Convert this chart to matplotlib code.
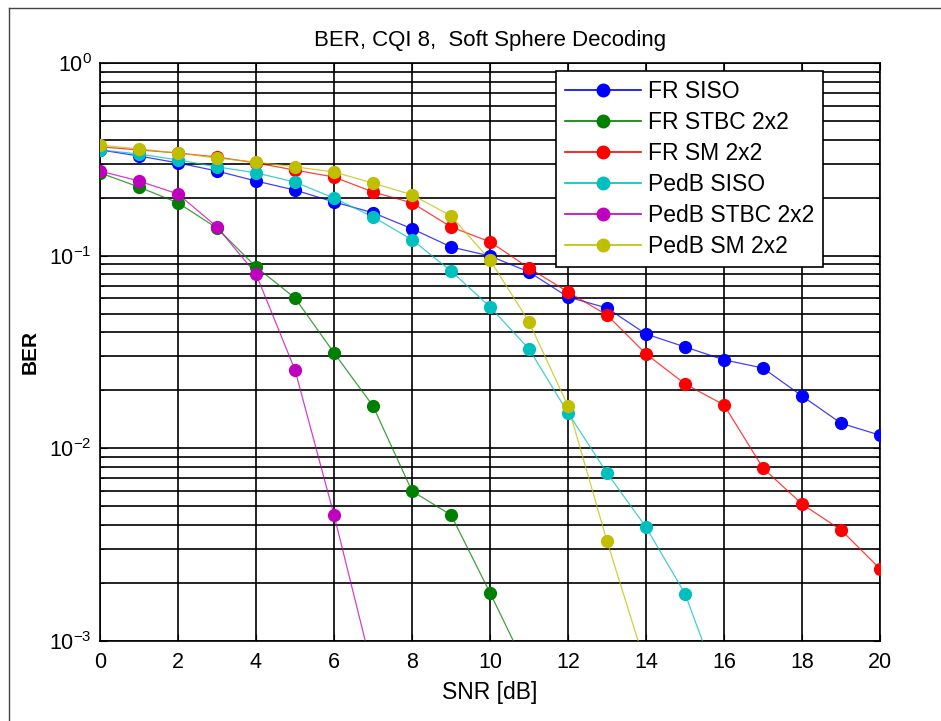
import matplotlib
matplotlib.use("Agg")
import matplotlib.pyplot as plt
from matplotlib.ticker import LogLocator, NullFormatter
from matplotlib.lines import Line2D

plt.rcParams['font.family'] = ['Liberation Sans', 'DejaVu Sans']

# SNR axis
snr = list(range(0, 21))

# BER curves
fr_siso = [0.354, 0.329, 0.303, 0.275, 0.244, 0.219, 0.190, 0.167, 0.138, 0.111,
           0.0996, 0.0823, 0.0610, 0.0535, 0.0392, 0.0336, 0.0288, 0.0261, 0.0187,
           0.0135, 0.0117]
fr_stbc = [0.269, 0.227, 0.188, 0.139, 0.0874, 0.0603, 0.0313, 0.0166, 0.0060,
           0.00451, 0.00178, 0.00068]
fr_sm = [0.367, 0.354, 0.341, 0.325, 0.303, 0.278, 0.256, 0.214, 0.188, 0.141,
         0.118, 0.0863, 0.0648, 0.0492, 0.0309, 0.0216, 0.0168, 0.0079, 0.00514,
         0.00377, 0.00237]
pedb_siso = [0.354, 0.337, 0.314, 0.289, 0.269, 0.241, 0.199, 0.159, 0.121,
             0.0833, 0.0542, 0.0328, 0.0153, 0.00745, 0.0039, 0.00176, 0.0005]
pedb_stbc = [0.275, 0.244, 0.209, 0.141, 0.0804, 0.0255, 0.00451, 0.00069]
pedb_sm = [0.375, 0.358, 0.341, 0.321, 0.306, 0.289, 0.272, 0.238, 0.207, 0.161,
           0.095, 0.0453, 0.0166, 0.0033, 0.00074]

labels = ['FR SISO', 'FR STBC 2x2', 'FR SM 2x2', 'PedB SISO', 'PedB STBC 2x2', 'PedB SM 2x2']
colors = ['#0000ff', '#007f00', '#ff0000', '#00bfbf', '#bf00bf', '#bfbf00']
series = [fr_siso, fr_stbc, fr_sm, pedb_siso, pedb_stbc, pedb_sm]

fig = plt.figure(figsize=(9.41, 7.21), dpi=100)
ax = fig.add_axes([100/941, 1-641/721, 780/941, 578/721])

for ys, c in zip(series, colors):
    ax.plot(snr[:len(ys)], ys, '-', color=c, lw=0.9, alpha=0.75, zorder=3)
    ax.plot(snr[:len(ys)], ys, 'o', color=c, ms=8.5, mec=c, zorder=4)

ax.set_yscale('log')
ax.set_xlim(0, 20)
ax.set_ylim(1e-3, 1)
ax.set_xticks(range(0, 21, 2))
ax.yaxis.set_major_locator(LogLocator(base=10, numticks=10))
ax.yaxis.set_minor_locator(LogLocator(base=10, subs=range(2, 10), numticks=20))
ax.yaxis.set_minor_formatter(NullFormatter())

ax.grid(True, which='major', color='black', lw=1.2, ls='-')
ax.grid(True, which='minor', axis='y', color='black', lw=1.2, ls='-')
ax.tick_params(which='both', direction='in', top=True, right=True, labelsize=15.5, length=5)
ax.tick_params(axis='x', pad=8)
ax.tick_params(axis='y', pad=6)
ax.tick_params(which='minor', length=3)
for s in ax.spines.values():
    s.set_linewidth(1.2)

ax.set_title('BER, CQI 8,  Soft Sphere Decoding', fontsize=16, pad=12)
ax.set_xlabel('SNR [dB]', fontsize=16.5, labelpad=6)
ax.set_ylabel('BER', fontsize=15, fontweight='bold', labelpad=7)

handles = [Line2D([0], [0], color=c, lw=1.2, marker='o', ms=9) for c in colors]
leg = ax.legend(handles, labels, loc='upper left',
                bbox_to_anchor=(556/941, 1-71/721), bbox_transform=fig.transFigure,
                fontsize=16.5, frameon=True, fancybox=False, edgecolor='black',
                framealpha=1, handlelength=3.3, handletextpad=0.3,
                borderaxespad=0, labelspacing=0.35, borderpad=0.4)
leg.get_frame().set_linewidth(1.2)
leg.set_zorder(10)

# outer frame of the exported figure
fig.add_artist(Line2D([9/941, 9/941], [0, 1-8/721], color='#444444', lw=1,
                      transform=fig.transFigure))
fig.add_artist(Line2D([9/941, 1], [1-8/721, 1-8/721], color='#444444', lw=1,
                      transform=fig.transFigure))

fig.savefig('out.png', dpi=100)
